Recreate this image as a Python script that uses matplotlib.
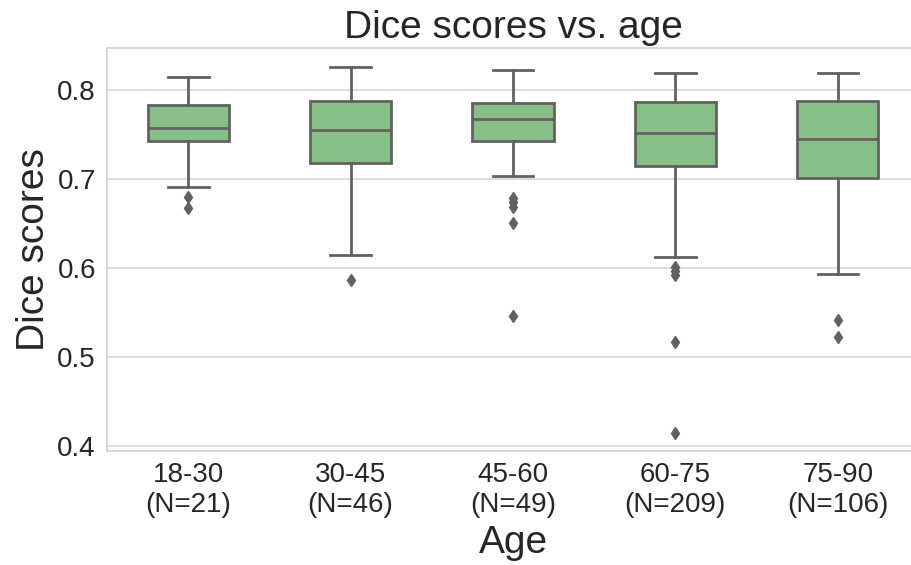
import matplotlib.pyplot as plt

plt.rcParams['font.family'] = ['Liberation Sans', 'DejaVu Sans']

age_groups = ["18-30\n(N=21)", "30-45\n(N=46)", "45-60\n(N=49)", "60-75\n(N=209)", "75-90\n(N=106)"]
whisker_low = [0.691, 0.614, 0.703, 0.612, 0.593]
q1 = [0.743, 0.718, 0.743, 0.715, 0.701]
median = [0.757, 0.755, 0.767, 0.752, 0.745]
q3 = [0.783, 0.787, 0.785, 0.786, 0.788]
whisker_high = [0.814, 0.826, 0.822, 0.819, 0.819]
outliers = [
    [0.680, 0.667],
    [0.586],
    [0.678, 0.674, 0.669, 0.650, 0.546],
    [0.601, 0.597, 0.592, 0.517, 0.415],
    [0.542, 0.523],
]

stats = []
for i in range(len(age_groups)):
    stats.append({
        "whislo": whisker_low[i], "q1": q1[i], "med": median[i],
        "q3": q3[i], "whishi": whisker_high[i], "fliers": outliers[i],
    })

line_col = "#616161"
fig = plt.figure(figsize=(9.12, 5.65), dpi=100)
ax = fig.add_axes([107 / 912, 1 - 450.5 / 565, 812 / 912, (450.5 - 48) / 565])

ax.bxp(stats, positions=range(len(age_groups)), widths=0.5, patch_artist=True,
       boxprops=dict(facecolor="#88bf87", edgecolor=line_col, linewidth=2),
       medianprops=dict(color=line_col, linewidth=2),
       whiskerprops=dict(color=line_col, linewidth=2),
       capprops=dict(color=line_col, linewidth=2),
       flierprops=dict(marker="d", markerfacecolor=line_col, markeredgecolor=line_col, markersize=6.5),
       zorder=3)

ax.set_xlim(-0.5, len(age_groups) - 0.5)
ax.set_ylim(0.395, 0.847)
ax.set_yticks([0.4, 0.5, 0.6, 0.7, 0.8])
ax.set_xticks(range(len(age_groups)))
ax.set_xticklabels(age_groups)
ax.tick_params(axis="both", labelsize=20, colors="#262626", length=0, pad=8)
ax.yaxis.grid(True, color="#d9d9d9", linewidth=1.3)
ax.set_axisbelow(True)
for s in ax.spines.values():
    s.set_color("#d4d4d4")
    s.set_linewidth(1.3)

ax.set_xlabel("Age", fontsize=28, color="#262626", labelpad=5)
ax.set_ylabel("Dice scores", fontsize=28, color="#262626")
ax.set_title("Dice scores vs. age", fontsize=28, color="#262626", pad=7)

fig.savefig("out.png", dpi=100)
